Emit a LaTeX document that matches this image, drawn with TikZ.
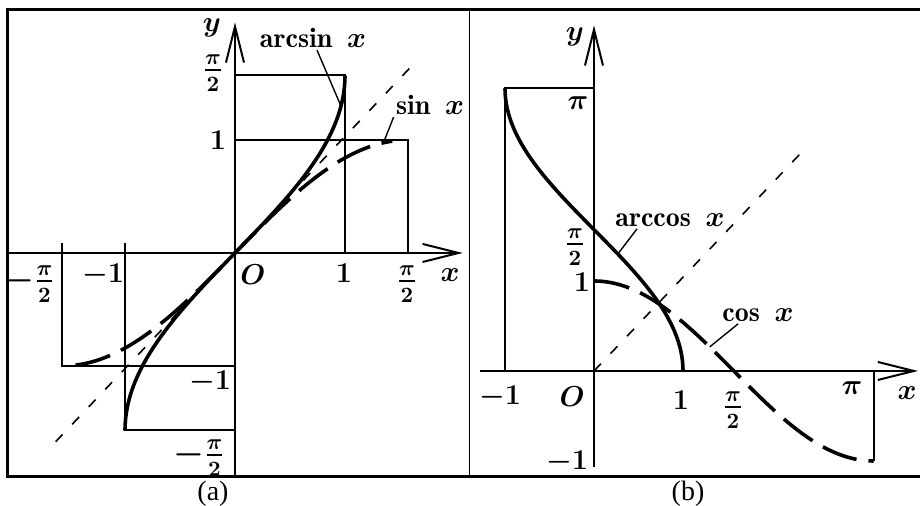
\documentclass[tikz,border=0pt]{standalone}
\usepackage{amsmath}
\usepackage{fontspec}
\newfontfamily\capserif{Liberation Serif}
\usetikzlibrary{arrows.meta}

\begin{document}
\begin{tikzpicture}[x=0.5pt, y=0.5pt, font=\fontsize{14}{17}\selectfont\boldmath, inner sep=1pt,
  frame/.style={line width=1.5pt},
  axis/.style={line width=1pt, -{Straight Barb[length=18pt,width=9pt]}},
  box/.style={line width=1pt},
  curve/.style={line width=1.8pt},
  dcurve/.style={line width=1.8pt, dash pattern=on 18pt off 6pt},
  diag/.style={line width=0.8pt, dash pattern=on 5pt off 7pt},
  lead/.style={line width=0.7pt},
  frac/.style={font=\fontsize{16}{19}\selectfont\boldmath},
  captxt/.style={font=\capserif\fontsize{14}{17}\selectfont}]
\useasboundingbox (0,0) rectangle (920,506);
\draw[frame] (924,496) -- (7,496) -- (7,29) -- (924,29);
\draw[line width=0.5pt] (469,29) -- (469,496);

% (a) sin and arcsin
\begin{scope}[shift={(235,253)}, xscale=110, yscale=113]
\draw[axis] (-2.07,0) -- (2.07,0);
\draw[axis] (0,-1.98) -- (0,2.04);
\draw[box] (0,pi/2) -- (1,pi/2) -- (1,0);
\draw[box] (0,1) -- (pi/2,1) -- (pi/2,0);
\draw[box] (-1,0.09) -- (-1,-pi/2) -- (0,-pi/2);
\draw[box] (-pi/2,0.09) -- (-pi/2,-1) -- (0,-1);
\draw[diag] (-1.63,-1.67) -- (1.67,1.72);
\draw[curve] plot[variable=\t, domain=-pi/2:pi/2, samples=60, smooth] ({sin(\t r)},\t);
\draw[dcurve] plot[domain=-1.45:1.43, samples=50, smooth] (\x,{sin(\x r)});
\coordinate (pasin) at ({sin(1.3 r)},1.3);
\coordinate (psin) at (1.35,{sin(1.35 r)});
\end{scope}
\node (ay) at (212,478) {$y$};
\node (lasin) at (313,468) {$\arcsin\ x$};
\node (lsin) at (430,401) {$\sin\ x$};
\draw[lead] ([xshift=2pt]lasin.south) -- (pasin);
\draw[lead] (lsin.south west) -- (psin);
\node[frac] (ayp) at (213,433) {$\tfrac{\pi}{2}$};
\node (ay1) at (218,366) {$1$};
\node (ao) at (253,231) {$O$};
\node (ax1) at (344,233) {$1$};
\node[frac] (axp) at (407,222) {$\tfrac{\pi}{2}$};
\node (ax) at (450,231) {$x$};
\node[frac] (axmp) at (29,222) {$-\tfrac{\pi}{2}$};
\node (axm1) at (103,231) {$-1$};
\node (aym1) at (210,124) {$-1$};
\node[frac] (aymp) at (199,48) {$-\tfrac{\pi}{2}$};
\node[captxt] (capa) at (213,12) {(a)};

% (b) cos and arccos
\begin{scope}[shift={(594,135)}, xscale=89, yscale=90]
\draw[axis] (-1.28,0) -- (3.64,0);
\draw[axis] (0,-1.07) -- (0,3.84);
\draw[box] (-1,0) -- (-1,pi) -- (0,pi);
\draw[box] (pi,0) -- (pi,-1);
\draw[diag] (0,0) -- (2.4,2.5);
\draw[curve] plot[variable=\t, domain=0:pi, samples=60, smooth] ({cos(\t r)},\t);
\draw[dcurve] plot[domain=0:pi, samples=60, smooth] (\x,{cos(\x r)});
\coordinate (pacos) at ({cos(1.3 r)},1.3);
\coordinate (pcos) at (1.3,{cos(1.3 r)});
\end{scope}
\node (by) at (575,469) {$y$};
\node (racos) at (670,286) {$\arccos\ x$};
\node (rcos) at (758,191) {$\cos\ x$};
\draw[lead] ([xshift=12pt]racos.south west) -- (pacos);
\draw[lead] ([xshift=9pt]rcos.south west) -- (pcos);
\node (bypi) at (578,403) {$\pi$};
\node[frac] (byp) at (575,259) {$\tfrac{\pi}{2}$};
\node (by1) at (582,224) {$1$};
\node (bxm1) at (500,109) {$-1$};
\node (bo) at (572,109) {$O$};
\node (bx1) at (681,106) {$1$};
\node[frac] (bxp) at (733,96) {$\tfrac{\pi}{2}$};
\node (bxpi) at (852,118) {$\pi$};
\node (bx) at (907,113) {$x$};
\node (bym1) at (567,44) {$-1$};
\node[captxt] (capb) at (688,12) {(b)};
\end{tikzpicture}
\end{document}
